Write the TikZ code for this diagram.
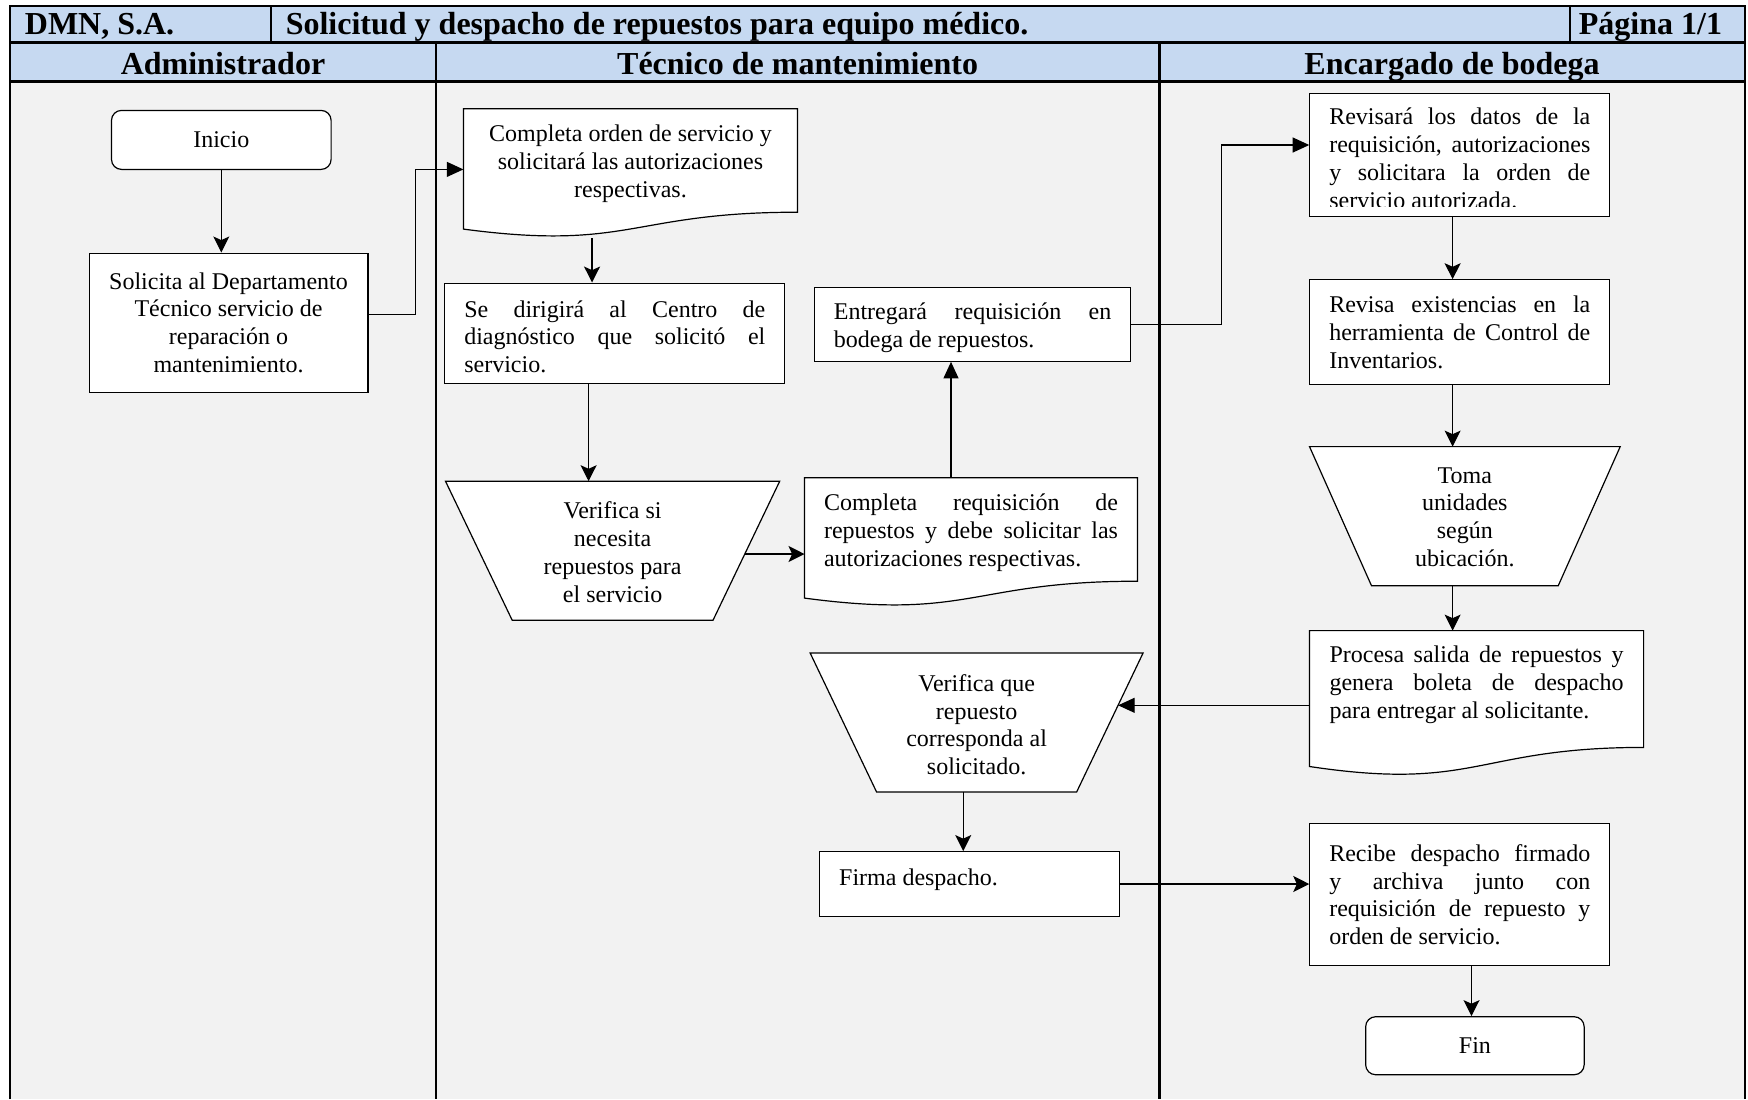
\documentclass[tikz,border=0pt]{standalone}
\usepackage{fontspec}
\setmainfont{Liberation Serif}
\usetikzlibrary{arrows.meta,calc}
\definecolor{headblue}{HTML}{C6D9F1}
\definecolor{lanegray}{HTML}{F2F2F2}
\pgfdeclarelayer{back}
\pgfdeclarelayer{mid}
\pgfsetlayers{back,mid,main}

\newcommand\bodyfont{\fontsize{12}{13.9}\selectfont}
\newcommand\headfont{\fontsize{16}{18}\selectfont\bfseries}
% justified paragraphs with fixed line breaks
\newcommand\jtext{\parindent=0pt\tolerance=10000\hbadness=10000\hyphenpenalty=10000\exhyphenpenalty=10000\relax}

\tikzset{
  frame/.style={line width=1.1pt},
  box/.style={draw, line width=0.6pt, fill=white, inner sep=0pt, font=\bodyfont},
  shp/.style={draw, line width=0.6pt, fill=white},
  geo/.style={inner sep=0pt},
  txt/.style={inner sep=0pt, font=\bodyfont},
  jbox/.style={align=justify},
  stl/.style={-{Stealth[length=8pt,width=8pt,inset=1.8pt]}, line width=0.6pt},
  tri/.style={-{Triangle[length=8.3pt,width=7.5pt]}, line width=0.6pt},
  head/.style={inner sep=0pt, font=\headfont},
}

% document symbol drawn around a node (node = upper rectangular part)
\newcommand\docpath[2]{\draw[shp] (#1.north west) -- (#1.north east) -- (#1.south east)
  .. controls (#1.south) and ([yshift=-0.3055*#2]#1.south) .. ([yshift=-0.132*#2]#1.south west) -- cycle;}
% manual-operation trapezoid drawn around a node
\newcommand\manpath[2]{\draw[shp] (#1.north west) -- (#1.north east) -- ([xshift=-#2]#1.south east) -- ([xshift=#2]#1.south west) -- cycle;}

\begin{document}
\begin{tikzpicture}[x=0.5pt,y=-0.5pt]
\useasboundingbox (0,0) rectangle (1748,1099);

% swimlane frame
\begin{pgfonlayer}{back}
  \fill[white] (0,0) rectangle (1748,1099);
  \fill[headblue] (10,5.6) rectangle (1744.7,81.4);
  \fill[lanegray] (10,81.4) rectangle (1744.7,1099);
  \draw[frame] (10,1099) -- (10,5.6) -- (1744.7,5.6) -- (1744.7,1099);
  \draw[frame] (10,42.4) -- (1744.7,42.4) (10,81.4) -- (1744.7,81.4);
  \draw[frame] (270.9,5.6) -- (270.9,42.4) (1569.6,5.6) -- (1569.6,42.4);
  \draw[frame] (435.9,42.4) -- (435.9,1099) (1159.4,42.4) -- (1159.4,1099);
\end{pgfonlayer}

% headings
\node[head, anchor=base west] (firm) at (24.5,34.3) {DMN, S.A.};
\node[head, anchor=base west] (title) at (285.4,34.3) {Solicitud y despacho de repuestos para equipo médico.};
\node[head, anchor=base east] (page) at (1722.4,34.3) {Página 1/1};
\node[head, anchor=base] (laneA) at (223,74) {Administrador};
\node[head, anchor=base] (laneB) at (797.6,74) {Técnico de mantenimiento};
\node[head, anchor=base] (laneC) at (1452,74) {Encargado de bodega};

% Administrador
\node[box, rounded corners=5pt, minimum width=109.8pt, minimum height=29.5pt] (ini) at (221.3,139.9) {Inicio};
\node[box, minimum width=139.4pt, minimum height=69.6pt, align=center] (sol) at (228.5,322.7)
  {Solicita al Departamento\\Técnico servicio de\\reparación o\\mantenimiento.};

% Tecnico de mantenimiento
\node[geo, minimum width=166.65pt, minimum height=51.3pt] (co) at (630.45,160.5) {};
\node[txt, align=center] (cot) at ([yshift=-1.7pt]co.center)
  {Completa orden de servicio y\\solicitará las autorizaciones\\respectivas.};
\node[box, minimum width=170pt, minimum height=50.15pt] (se) at (614.8,333.3) {};
\node[txt, jbox, text width=150.5pt] (set) at ([yshift=-1.7pt]se.center)
  {\jtext Se dirigirá al Centro de\linebreak diagnóstico que solicitó el\linebreak servicio.};
\node[geo, minimum width=166.7pt, minimum height=69.1pt] (vs) at (612.6,550.7) {};
\node[txt, align=center] (vst) at ([yshift=-0.8pt]vs.center)
  {Verifica si\\necesita\\repuestos para\\el servicio};
\node[box, minimum width=157.75pt, minimum height=36.8pt] (en) at (972.6,324.4) {};
\node[txt, jbox, text width=138.75pt] (ent) at ([yshift=-1.8pt]en.center)
  {\jtext Entregará requisición en\linebreak bodega de repuestos.};
\node[geo, minimum width=166.1pt, minimum height=51.3pt] (cr) at (971,529.5) {};
\node[txt, jbox, text width=147pt] (crt) at ([yshift=-1.7pt]cr.center)
  {\jtext Completa requisición de\linebreak repuestos y debe solicitar las\linebreak autorizaciones respectivas.};
\node[geo, minimum width=166.1pt, minimum height=69.1pt] (vq) at (976.6,722.4) {};
\node[txt, align=center] (vqt) at ([yshift=-1.1pt]vq.center)
  {Verifica que\\repuesto\\corresponda al\\solicitado.};
\node[box, minimum width=149.95pt, minimum height=32.35pt] (fd) at (969.3,884) {};
\node[txt, anchor=west] (fdl) at ([xshift=10pt,yshift=1.9pt]fd.west) {Firma despacho.};

% Encargado de bodega
\node[box, minimum width=149.95pt, minimum height=61.3pt] (rv) at (1459.8,155) {};
\begin{scope}
  \clip ([xshift=-1pt]rv.north west) rectangle ([yshift=5pt]rv.south east);
  \node[txt, jbox, text width=130.5pt] (rvt) at (1459.8,158.4)
    {\jtext Revisará los datos de la\linebreak requisición, autorizaciones\linebreak y solicitara la orden de\linebreak servicio autorizada.};
\end{scope}
\node[box, jbox, minimum width=149.95pt, minimum height=52.4pt, text width=130.5pt] (re) at (1459.8,332.2)
  {\jtext Revisa existencias en la\linebreak herramienta de Control de\linebreak Inventarios.};
\node[geo, minimum width=154.95pt, minimum height=69.15pt] (tm) at (1464.85,516.15) {};
\node[txt, align=center] (tmt) at ([yshift=-0.5pt]tm.center)
  {Toma\\unidades\\según\\ubicación.};
\node[geo, minimum width=166.65pt, minimum height=58pt] (pr) at (1476.55,689) {};
\node[txt, jbox, text width=147pt] (prt) at ([yshift=2pt]pr.center)
  {\jtext Procesa salida de repuestos y\linebreak genera boleta de despacho\linebreak para entregar al solicitante.};
\node[box, jbox, minimum width=149.95pt, minimum height=70.8pt, text width=130.5pt] (rc) at (1459.8,894.6)
  {\jtext Recibe despacho firmado\linebreak y archiva junto con\linebreak requisición de repuesto y\linebreak orden de servicio.};
\node[box, rounded corners=5pt, minimum width=109.25pt, minimum height=29pt] (fin) at (1474.9,1045.7) {Fin};

% outlines of the document and manual-operation symbols
\begin{pgfonlayer}{mid}
  \docpath{co}{63.95pt}
  \docpath{cr}{63.95pt}
  \docpath{pr}{72.3pt}
  \manpath{vs}{33.34pt}
  \manpath{tm}{30.99pt}
  \manpath{vq}{33.22pt}
\end{pgfonlayer}

% connectors
\draw[stl] (ini.south) -- (ini.south |- sol.north);
\coordinate (solout) at ([yshift=4.15pt]sol.east);
\coordinate (coin) at ([yshift=-4.45pt]co.west);
\draw[tri] (solout) -- ++(46.8,0) |- (coin);
\coordinate (coout) at ([xshift=-19.2pt,yshift=-13pt]co.south);
\draw[stl] (coout) -- (coout |- se.north);
\coordinate (seout) at ([xshift=-13.1pt]se.south);
\draw[stl] (seout) -- (seout |- vs.north);
\coordinate (vsout) at ([xshift=-17.45pt,yshift=-1.65pt]vs.east);
\draw[stl] (vsout) -- (vsout -| cr.west);
\coordinate (enin) at ([xshift=-10.8pt]en.south);
\draw[tri] (enin |- cr.north) -- (enin);
\coordinate (rvin) at ([yshift=5pt]rv.west);
\draw[tri] (en.east) -- ++(90.3,0) |- (rvin);
\coordinate (colC) at ([xshift=-3.6pt]rv.south);
\draw[stl] (colC) -- (colC |- re.north);
\draw[stl] (colC |- re.south) -- (colC |- tm.north);
\draw[stl] (colC |- tm.south) -- (colC |- pr.north);
\coordinate (prout) at ([yshift=-8.15pt]pr.west);
\coordinate (vqin) at ([xshift=-12.5pt]vq.east);
\draw[tri] (prout) -- (prout -| vqin);
\coordinate (vqout) at ([xshift=-6.7pt]vq.south);
\draw[stl] (vqout) -- (vqout |- fd.north);
\draw[stl] (fd.east) -- (fd.east -| rc.west);
\coordinate (finin) at ([xshift=-1.7pt]fin.north);
\draw[stl] (finin |- rc.south) -- (finin);
\end{tikzpicture}
\end{document}
